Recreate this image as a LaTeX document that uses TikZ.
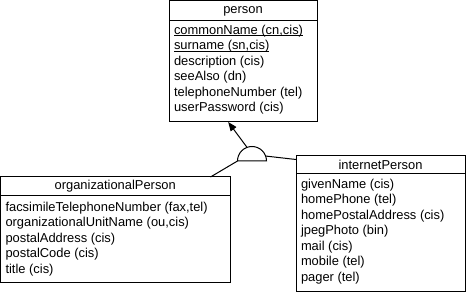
\documentclass[tikz,border=0pt]{standalone}
\usepackage{fontspec}
\setmainfont{Liberation Sans}
\usetikzlibrary{arrows.meta,calc}

\newcommand{\keyattr}[1]{\setbox0\hbox{#1}\rlap{\rule[-1.8pt]{\wd0}{0.9pt}}\box0}

\begin{document}
\begin{tikzpicture}[x=1pt,y=-1pt,line width=1pt,
  font=\fontsize{12.9}{15.5}\selectfont,
  classname/.style={draw,anchor=north west,outer sep=0pt,inner sep=0pt,minimum height=19},
  attrlist/.style={draw,anchor=north west,outer sep=0pt,inner xsep=5pt,inner ysep=0pt}]

\useasboundingbox (0,0) rectangle (467,294);

% Class person
\node[classname,minimum width=148,minimum height=20] (personname) at (169,1) {person};
\node[attrlist] (personattr) at (personname.south west)
  {\parbox[t][101pt][t]{138pt}{\rule{0pt}{13.5pt}\keyattr{commonName (cn,cis)}\\
   \keyattr{surname (sn,cis)}\\
   description (cis)\\
   seeAlso (dn)\\
   telephoneNumber (tel)\\
   userPassword (cis)}};

% Class organizationalPerson
\node[classname,minimum width=229.5] (orgname) at (0.5,177) {organizationalPerson};
\node[attrlist] (orgattr) at (orgname.south west)
  {\parbox[t][87pt][t]{219.5pt}{\rule{0pt}{15.5pt}facsimileTelephoneNumber (fax,tel)\\
   organizationalUnitName (ou,cis)\\
   postalAddress (cis)\\
   postalCode (cis)\\
   title (cis)}};

% Class internetPerson
\node[classname,minimum width=169,minimum height=18] (inetname) at (296,156) {internetPerson};
\node[attrlist] (inetattr) at (inetname.south west)
  {\parbox[t][118pt][t]{159pt}{\rule{0pt}{14.5pt}givenName (cis)\\
   homePhone (tel)\\
   homePostalAddress (cis)\\
   jpegPhoto (bin)\\
   mail (cis)\\
   mobile (tel)\\
   pager (tel)}};

% Inheritance joint
\coordinate (joint) at (252,161);
\draw (joint) ++(-14.5,0) arc[start angle=180,end angle=360,radius=14.5] -- cycle;
\coordinate (jointtop) at ($(joint)+(-110:14.5)$);
\coordinate (jointleft) at ($(joint)+(180:14.5)$);
\coordinate (jointright) at ($(joint)+(-20:14.5)$);

% Connectors
\coordinate (persontip) at ($(personattr.south west)!0.4!(personattr.south east)$);
\coordinate (orgtop) at ($(orgname.north west)!0.915!(orgname.north east)$);
\coordinate (inetside) at ($(inetname.north west)+(0,3.5)$);
\draw[-{Triangle[length=9pt,width=7pt]}] (jointtop) -- (persontip);
\draw (jointleft) -- (orgtop);
\draw (jointright) -- (inetside);

\end{tikzpicture}
\end{document}
